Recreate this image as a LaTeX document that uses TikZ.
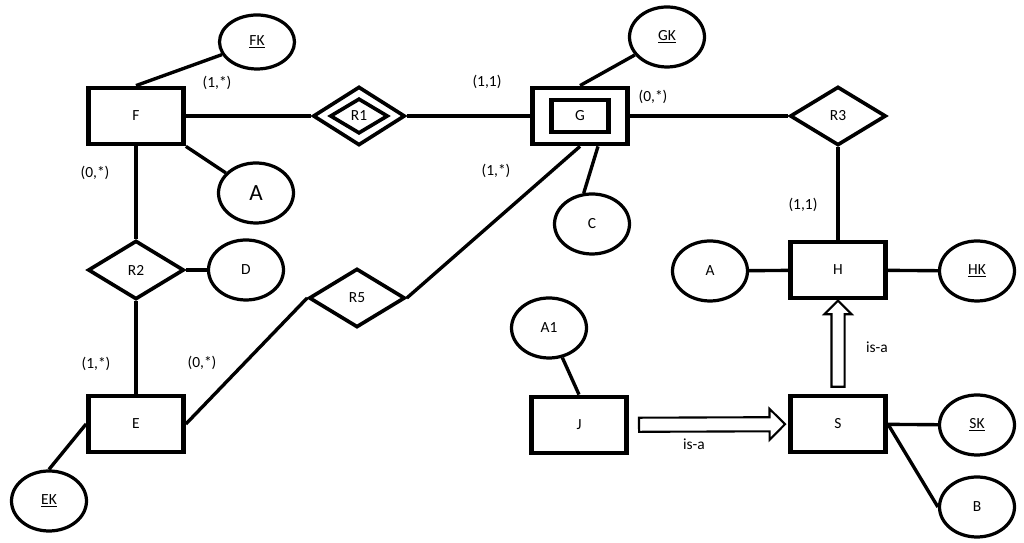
\documentclass[tikz,border=0pt]{standalone}
\usepackage{fontspec}
\setmainfont{Carlito}
\usetikzlibrary{shapes.geometric,shapes.arrows}

\begin{document}
\begin{tikzpicture}[every node/.style={font=\fontsize{11}{13}\selectfont},
    entity/.style={draw, line width=3.4pt, minimum width=2.375cm, minimum height=1.4cm, inner sep=0pt},
    attr/.style={draw, ellipse, line width=2.3pt, minimum width=1.875cm, minimum height=1.5cm, inner sep=0pt},
    rel/.style={draw, diamond, line width=2.6pt, minimum width=2.4cm, minimum height=1.47cm, inner sep=0pt},
    rline/.style={line width=3pt},
    aline/.style={line width=2.4pt},
    isa/.style={draw, single arrow, line width=1.5pt, single arrow head indent=0pt, inner xsep=0pt, sloped}]
    \useasboundingbox (0,0) rectangle (25.6,13.575);
    % entities
    \node[entity] (F) at (3.40, 10.675) {F};
    \node[entity] (G) at (14.50, 10.675) {};
    \node[entity, minimum width=1.425cm, minimum height=0.8cm] (Gin) at (G) {G};
    \node[entity] (H) at (20.95, 6.825) {H};
    \node[entity] (S) at (20.95, 2.975) {S};
    \node[entity] (J) at (14.475, 2.95) {J};
    \node[entity] (E) at (3.40, 2.975) {E};
    % relationships
    \node[rel, minimum width=2.3cm] (R1) at (8.975, 10.675) {};
    \node[rel, minimum width=1.45cm, minimum height=0.88cm] (R1in) at (R1) {R1};
    \node[rel] (R2) at (3.40, 6.825) {R2};
    \node[rel] (R3) at (20.95, 10.675) {R3};
    \node[rel] (R5) at (8.925, 6.125) {R5};
    % attributes
    \node[attr, minimum height=1.35cm] (FK) at (6.425, 12.525) {\underline{FK}};
    \node[attr, font=\fontsize{16.5}{18}\selectfont] (Af) at (6.40, 8.75) {A};
    \node[attr] (GK) at (16.675, 12.65) {\underline{GK}};
    \node[attr] (C) at (14.80, 7.975) {C};
    \node[attr] (D) at (6.15, 6.825) {D};
    \node[attr] (EK) at (1.225, 1.05) {\underline{EK}};
    \node[attr] (Ah) at (17.75, 6.80) {A};
    \node[attr] (HK) at (24.425, 6.80) {\underline{HK}};
    \node[attr] (SK) at (24.425, 2.95) {\underline{SK}};
    \node[attr] (B) at (24.425, 0.90) {B};
    \node[attr] (A1) at (13.725, 5.375) {A1};
    % relationship lines
    \draw[rline] (F) -- (R1);
    \draw[rline] (R1) -- (G);
    \draw[rline] (G) -- (R3);
    \draw[rline] (R3) -- (H);
    \draw[rline] (F) -- (R2);
    \draw[rline] (R2) -- (E);
    \draw[aline] (E.east) -- (R5.west);
    \draw[aline] (R5.east) -- (G.south);
    % attribute lines
    \draw[aline] (F.north) -- (FK);
    \draw[aline] (F.south east) -- (Af);
    \draw[aline] (G.north) -- (GK);
    \draw[aline] ([xshift=0.45cm]G.south) -- (C.105);
    \draw[aline] (R2) -- (D);
    \draw[aline] (E.west) -- (EK.north);
    \draw[aline] (H) -- (Ah);
    \draw[aline] (H) -- (HK);
    \draw[aline] (S) -- (SK);
    \draw[aline] (S.east) -- (B.west);
    \draw[aline] (J.north) -- (A1);
    % is-a
    \path (J) -- node[isa, minimum height=3.65cm, inner ysep=0.15cm, single arrow head extend=0.21cm] (isaJS) {} (S);
    \path (S) -- node[isa, minimum height=2.15cm, inner ysep=0.1375cm, single arrow head extend=0.175cm] (isaSH) {} (H);
    % cardinalities
    \node (cFR1) at (5.425, 11.5) {(1,*)};
    \node (cFR2) at (2.375, 9.25) {(0,*)};
    \node (cGR1) at (12.175, 11.525) {(1,1)};
    \node (cGR3) at (16.325, 11.15) {(0,*)};
    \node (cGR5) at (12.40, 9.30) {(1,*)};
    \node (cHR3) at (20.075, 8.45) {(1,1)};
    \node (cER2) at (2.40, 4.475) {(1,*)};
    \node (cER5) at (5.05, 4.50) {(0,*)};
    \node (lJS) at (17.35, 2.475) {is-a};
    \node (lSH) at (21.925, 4.9) {is-a};
\end{tikzpicture}
\end{document}
